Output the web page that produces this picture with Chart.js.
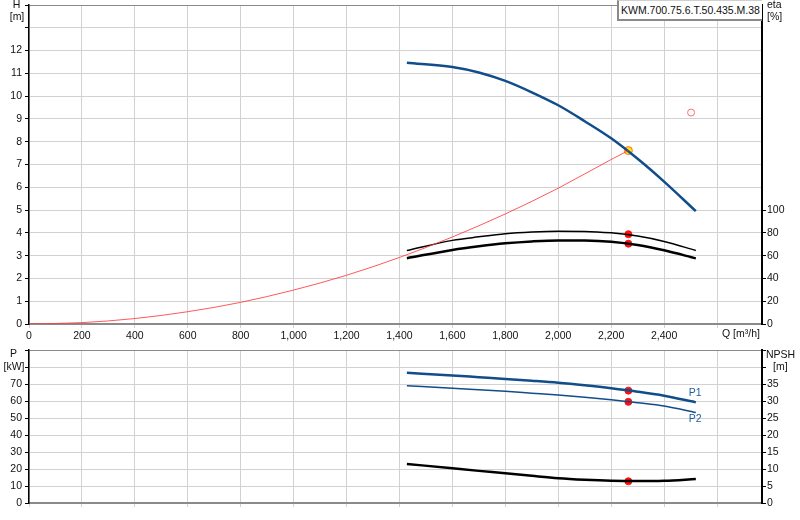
<!DOCTYPE html>
<html><head><meta charset="utf-8">
<script src="https://cdn.jsdelivr.net/npm/chart.js@4.4.1/dist/chart.umd.min.js"></script>
<style>
html,body{margin:0;padding:0;background:#fff;width:800px;height:520px;overflow:hidden;font-family:"Liberation Sans",Arial,sans-serif;}
#cTop{position:absolute;left:0;top:0;}
#cBot{position:absolute;left:0;top:345px;}
#legend{position:absolute;left:617px;top:0;width:143px;height:18px;border-left:2px solid #8a8a8a;border-bottom:2px solid #8a8a8a;border-top:1px solid #cfcfcf;background:#fff;font-size:10.5px;line-height:18px;text-align:center;color:#111;}
</style></head>
<body>
<canvas id="cTop" width="800" height="345"></canvas>
<canvas id="cBot" width="800" height="175"></canvas>
<div id="legend">KWM.700.75.6.T.50.435.M.38</div>
<script>
// ---- data ----
const Q_TICKS = [0,200,400,600,800,1000,1200,1400,1600,1800,2000,2200,2400,2600];
const Q_PUMP  = [1428,1600,1700,1800,1900,2000,2100,2200,2300,2400,2520];
const H_PUMP  = [11.47,11.28,11.04,10.67,10.17,9.6,8.9,8.15,7.25,6.25,4.95];
const ETA_1   = [64.5,73.4,76.5,79.2,80.7,81.4,81.3,80.0,77.2,72.5,64.5];
const ETA_2   = [57.8,65.0,68.2,70.8,72.5,73.4,73.3,72.2,69.3,64.7,57.6];
const P1_KW   = [76.6,75.0,74.0,73.0,71.9,70.7,69.2,67.5,65.5,63.1,59.2];
const P2_KW   = [69.0,67.5,66.6,65.7,64.6,63.5,62.2,60.7,59.0,57.1,53.2];
const NPSH_M  = [11.5,10.2,9.45,8.75,8.0,7.3,6.85,6.55,6.45,6.55,7.05];
const Q_SYS   = [0,200,400,600,800,1000,1200,1400,1600,1800,2000,2200,2265];
const H_SYS   = [0,0.06,0.24,0.54,0.95,1.49,2.14,2.92,3.82,4.83,5.96,7.22,7.61];
const DUTY_Q = 2265, DUTY_H = 7.61, DUTY_ETA1 = 78.8, DUTY_ETA2 = 70.5;
const DUTY_P1 = 66.1, DUTY_P2 = 59.5, DUTY_NPSH = 6.4;
const REQ_Q = 2502, REQ_H = 9.28;
const H_TICKS = [0,1,2,3,4,5,6,7,8,9,10,11,12,13,14];
const ETA_TICKS = [0,20,40,60,80,100];
const P_TICKS = [0,10,20,30,40,50,60,70,80,90];
const NPSH_TICKS = [0,5,10,15,20,25,30,35,40,45];

const FONT = '10.5px "Liberation Sans", Arial, sans-serif';
const TFONT = {family:'"Liberation Sans", Arial, sans-serif', size:10.5};
const GRID = '#d2d2d2';
const BLUE = '#114d8b';
const xy = (xs, ys) => xs.map((x,i)=>({x, y: ys[i]}));

const textPlugin = {
  id:'textPlugin',
  afterDraw(chart, args, opts){
    const c = chart.ctx; c.save(); c.font = FONT; c.textBaseline='middle';
    const items = typeof opts.items === 'function' ? opts.items(chart) : opts.items;
    for (const t of items){ c.textAlign = t.align||'center'; c.fillStyle = t.color||'#111'; c.fillText(t.text, t.x, t.y); }
    c.restore();
  }
};

const fixW = w => (s)=>{ s.width = w; s.paddingTop = 0; s.paddingBottom = 0; };
const fixH = h => (s)=>{ s.height = h; s.paddingLeft = 0; s.paddingRight = 0; };
const setTicks = arr => (s)=>{ s.ticks = arr.map(v=>({value:v})); };
const gridCol = top => (ctx)=> (ctx.tick && ctx.tick.value===top) ? '#8a8a8a' : GRID;

const lineDs = (data, color, width, axis) => ({data, borderColor:color, borderWidth:width, pointRadius:0, fill:false, cubicInterpolationMode:'monotone', yAxisID:axis});
const dotDs = (data, axis, bg, bc, r) => ({data, showLine:false, pointRadius:r, pointBackgroundColor:bg, pointBorderColor:bc, pointBorderWidth:1, yAxisID:axis});

new Chart(document.getElementById('cTop'), {
  type:'line',
  data:{ datasets:[
    lineDs(xy(Q_SYS,H_SYS), 'rgba(255,60,60,0.85)', 1, 'y'),
    lineDs(xy(Q_PUMP,H_PUMP), BLUE, 2.5, 'y'),
    lineDs(xy(Q_PUMP,ETA_1), '#000', 1.5, 'y2'),
    lineDs(xy(Q_PUMP,ETA_2), '#000', 2.5, 'y2'),
    dotDs([{x:DUTY_Q,y:DUTY_ETA1},{x:DUTY_Q,y:DUTY_ETA2}], 'y2', '#ff1010', '#ff1010', 3.5),
    dotDs([{x:DUTY_Q,y:DUTY_H}], 'y', '#ffe800', '#ff6a3a', 4),
    dotDs([{x:REQ_Q,y:REQ_H}], 'y', 'rgba(0,0,0,0)', '#ff6f6f', 3.5)
  ]},
  options:{
    responsive:false, animation:false, devicePixelRatio:1,
    layout:{padding:{top:1,left:0,right:0,bottom:0}},
    plugins:{legend:{display:false}, tooltip:{enabled:false},
      textPlugin:{items:[
        {text:'H',x:16.5,y:5},{text:'[m]',x:17,y:17},
        {text:'eta',x:767,y:5,align:'left'},{text:'[%]',x:767,y:17,align:'left'},
        {text:'Q [m³/h]',x:722,y:334,align:'left'}
      ]}},
    scales:{
      x:{type:'linear', min:0, max:2770, afterBuildTicks:setTicks(Q_TICKS), afterFit:fixH(21),
         grid:{color:GRID, tickLength:4, tickColor:GRID}, border:{color:'#8a8a8a', width:2},
         ticks:{font:TFONT, color:'#111', padding:2, maxRotation:0, autoSkip:false,
           callback:v=> v===2600 ? '' : v.toLocaleString('en-US')}},
      y:{type:'linear', position:'left', min:0, max:14, afterBuildTicks:setTicks(H_TICKS), afterFit:fixW(29),
         grid:{color:gridCol(14), tickLength:4, tickColor:'#000'}, border:{color:'#000', width:1.5},
         ticks:{font:TFONT, color:'#111', padding:3, autoSkip:false, callback:v=> v<=12 ? v : ''}},
      y2:{type:'linear', position:'right', min:0, max:280, afterBuildTicks:setTicks(ETA_TICKS), afterFit:fixW(38),
         grid:{drawOnChartArea:false, tickLength:4, tickColor:'#000'}, border:{color:'#000', width:2},
         ticks:{font:TFONT, color:'#111', padding:1, autoSkip:false}}
    }
  },
  plugins:[textPlugin]
});

new Chart(document.getElementById('cBot'), {
  type:'line',
  data:{ datasets:[
    lineDs(xy(Q_PUMP,P1_KW), BLUE, 2.5, 'y'),
    lineDs(xy(Q_PUMP,P2_KW), BLUE, 1.5, 'y'),
    lineDs(xy(Q_PUMP,NPSH_M), '#000', 2.5, 'y2'),
    dotDs([{x:DUTY_Q,y:DUTY_P1},{x:DUTY_Q,y:DUTY_P2}], 'y', '#ff1010', '#ff1010', 3.5),
    dotDs([{x:DUTY_Q,y:DUTY_NPSH}], 'y2', '#ff1010', '#ff1010', 3.5)
  ]},
  options:{
    responsive:false, animation:false, devicePixelRatio:1,
    layout:{padding:{top:5,left:0,right:0,bottom:0}},
    plugins:{legend:{display:false}, tooltip:{enabled:false},
      textPlugin:{items:(chart)=>{
        const sx = chart.scales.x, sy = chart.scales.y, n = Q_PUMP.length-1;
        const ex = sx.getPixelForValue(Q_PUMP[n]);
        return [
          {text:'P',x:13.5,y:9},{text:'[kW]',x:14,y:22},
          {text:'NPSH',x:766,y:10.5,align:'left'},{text:'[m]',x:773,y:22,align:'left'},
          {text:'P1',x:ex-7,y:sy.getPixelForValue(P1_KW[n])-9,align:'left',color:'#1f5f9f'},
          {text:'P2',x:ex-7,y:sy.getPixelForValue(P2_KW[n])+7,align:'left',color:'#1f5f9f'}
        ];
      }}},
    scales:{
      x:{type:'linear', min:0, max:2770, afterBuildTicks:setTicks(Q_TICKS), afterFit:fixH(17),
         grid:{color:GRID, tickLength:4, tickColor:GRID}, border:{color:'#8a8a8a', width:2},
         ticks:{display:false}},
      y:{type:'linear', position:'left', min:0, max:90, afterBuildTicks:setTicks(P_TICKS), afterFit:fixW(29),
         grid:{color:gridCol(90), tickLength:4, tickColor:'#000'}, border:{color:'#000', width:1.5},
         ticks:{font:TFONT, color:'#111', padding:3, autoSkip:false, callback:v=> v<=70 ? v : ''}},
      y2:{type:'linear', position:'right', min:0, max:45, afterBuildTicks:setTicks(NPSH_TICKS), afterFit:fixW(38),
         grid:{drawOnChartArea:false, tickLength:4, tickColor:'#000'}, border:{color:'#000', width:2},
         ticks:{font:TFONT, color:'#111', padding:1, autoSkip:false, callback:v=> v<=35 ? v : ''}}
    }
  },
  plugins:[textPlugin]
});
</script>
</body></html>
